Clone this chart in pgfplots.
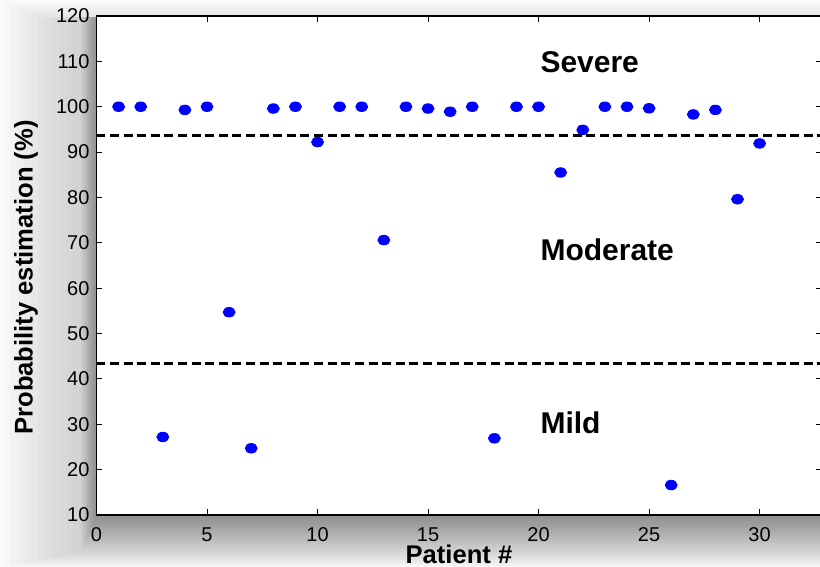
\documentclass[border=0pt]{standalone}
\usepackage{fontspec}
\setmainfont{Liberation Sans}
\usepackage{pgfplots}
\pgfplotsset{compat=1.18}
\begin{document}
\begin{tikzpicture}
\useasboundingbox (-48.25pt,-26pt) rectangle (361.75pt,257.5pt);
\clip (-48.25pt,-26pt) rectangle (361.75pt,257.5pt);
% soft drop shadow behind the axes box (decoration)
\foreach \k in {1,...,36}{
  \pgfmathsetmacro{\b}{-0.75*\k}
  \pgfmathsetmacro{\l}{\k<=24 ? -0.33*\k : -8-(\k-24)*3.5}
  \pgfmathsetmacro{\t}{\k<=30 ? 249 : 249+(\k-30)*1.5}
  \fill[black, opacity=0.016] (\l pt,\b pt) rectangle (372pt,\t pt);
}
\begin{axis}[
  at={(0,0)}, anchor=south west, scale only axis,
  width=362.5pt, height=249.5pt,
  xmin=0, xmax=32.8, ymin=10, ymax=120,
  xtick={0,5,...,30}, ytick={10,20,...,120},
  tick align=inside, major tick length=3pt,
  axis background/.style={fill=white},
  axis line style={black, line width=0.9pt},
  tick style={black, line width=0.5pt},
  /pgf/number format/assume math mode=true,
  ticklabel style={font=\fontsize{10}{12}\selectfont},
  xticklabel style={yshift=-2.7pt},
  xlabel={Patient \#},
  ylabel={Probability estimation (\%)},
  xlabel style={font=\fontsize{12.8}{15}\selectfont\bfseries, at={(axis description cs:0.5,-0.0601)}, anchor=north, inner sep=0pt},
  ylabel style={font=\fontsize{12.8}{15}\selectfont\bfseries, at={(axis description cs:-0.0972,0.476)}, anchor=center, rotate=0},
]
\addplot[black, line width=1.5pt, dash pattern=on 4.5pt off 2.3pt] coordinates {(0,93.6) (32.8,93.6)};
\addplot[black, line width=1.5pt, dash pattern=on 4.5pt off 2.3pt] coordinates {(0,43.5) (32.8,43.5)};
\addplot[only marks, mark=*, mark size=2.4pt, mark options={fill=blue, draw=blue, xscale=1.25}] coordinates {
(1,100) (2,100) (3,27.2) (4,99.3) (5,100) (6,54.7) (7,24.7) (8,99.6) (9,100) (10,92.2)
(11,100) (12,100) (13,70.6) (14,100) (15,99.6) (16,98.9) (17,100) (18,26.9) (19,100) (20,100)
(21,85.5) (22,94.9) (23,100) (24,100) (25,99.65) (26,16.6) (27,98.3) (28,99.3) (29,79.6) (30,91.9)
};
\node[anchor=west, inner sep=0pt, font=\fontsize{15}{18}\selectfont\bfseries] at (axis cs:20.07,109.9) {Severe};
\node[anchor=west, inner sep=0pt, font=\fontsize{15}{18}\selectfont\bfseries] at (axis cs:20.07,68.5) {Moderate};
\node[anchor=west, inner sep=0pt, font=\fontsize{15}{18}\selectfont\bfseries] at (axis cs:20.07,30.3) {Mild};
\end{axis}
\end{tikzpicture}
\end{document}
